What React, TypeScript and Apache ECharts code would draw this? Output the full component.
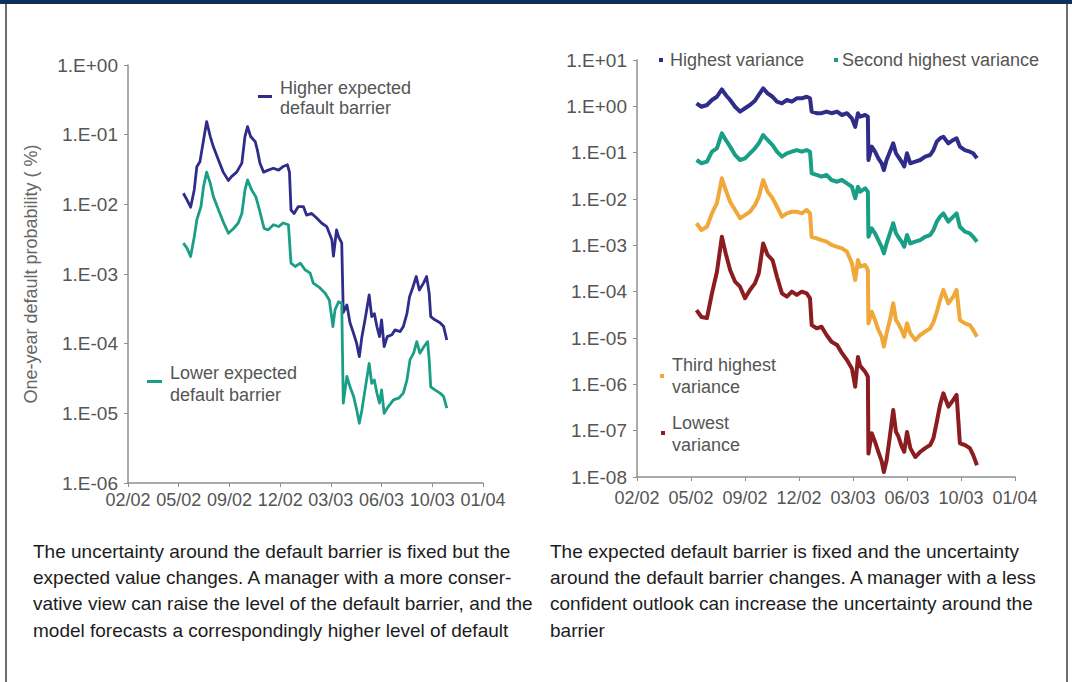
import React, { useEffect, useRef } from "react";
import * as echarts from "echarts";

// Date labels on both horizontal axes; ticks are TICK_DAYS apart
const tickLabels = ["02/02", "05/02", "09/02", "12/02", "03/03", "06/03", "10/03", "01/04"];
const TICK_DAYS = 98;

// Left panel: one-year default probability (%), [days since first tick, value]
const higherBarrier: [number, number][] = [
  [107, 1.44e-2], [114, 1.16e-2], [121, 9.1e-3], [128, 1.61e-2], [133, 3.47e-2], [139, 4.1e-2],
  [146, 8.4e-2], [152, 0.154], [159, 9.4e-2], [165, 6.7e-2], [175, 4.3e-2], [184, 2.9e-2],
  [194, 2.2e-2], [200, 2.5e-2], [210, 2.9e-2], [220, 3.9e-2], [226, 9.4e-2], [231, 0.13],
  [237, 9.4e-2], [246, 7.9e-2], [250, 6.0e-2], [255, 3.9e-2], [262, 2.9e-2], [271, 3.1e-2],
  [281, 3.3e-2], [291, 3.1e-2], [300, 3.5e-2], [308, 3.7e-2], [312, 2.9e-2], [315, 8.3e-3],
  [321, 7.4e-3], [329, 9.3e-3], [339, 9.3e-3], [345, 7.0e-3], [355, 7.4e-3], [365, 6.3e-3],
  [374, 5.4e-3], [384, 4.8e-3], [394, 3.1e-3], [397, 1.8e-3], [403, 4.3e-3], [407, 3.4e-3],
  [413, 2.8e-3], [416, 2.8e-4], [423, 3.6e-4], [429, 2.0e-4], [436, 1.4e-4], [442, 1.0e-4],
  [447, 6.5e-5], [452, 1.26e-4], [458, 2.2e-4], [466, 5.0e-4], [471, 2.45e-4], [476, 2.7e-4],
  [481, 1.76e-4], [486, 1.26e-4], [490, 2.2e-4], [495, 9.1e-5], [501, 1.26e-4], [510, 1.34e-4],
  [516, 1.58e-4], [526, 1.49e-4], [532, 1.76e-4], [539, 2.7e-4], [544, 4.7e-4], [550, 6.3e-4],
  [557, 9.2e-4], [563, 5.9e-4], [571, 7.4e-4], [577, 9.2e-4], [582, 5.3e-4], [585, 2.45e-4],
  [593, 2.2e-4], [603, 2.0e-4], [610, 1.76e-4], [616, 1.13e-4],
];

const lowerBarrier: [number, number][] = [
  [107, 2.77e-3], [114, 2.35e-3], [121, 1.78e-3], [128, 3.4e-3], [133, 6.0e-3], [141, 9.3e-3],
  [146, 1.8e-2], [152, 2.9e-2], [159, 2.0e-2], [165, 1.29e-2], [175, 8.3e-3], [184, 5.6e-3],
  [194, 3.85e-3], [204, 4.5e-3], [213, 5.4e-3], [220, 7.4e-3], [226, 1.6e-2], [231, 2.24e-2],
  [239, 1.6e-2], [247, 1.29e-2], [254, 8.3e-3], [263, 4.5e-3], [271, 4.3e-3], [281, 5.1e-3],
  [291, 4.8e-3], [300, 5.4e-3], [310, 5.1e-3], [315, 1.43e-3], [323, 1.28e-3], [333, 1.43e-3],
  [342, 1.15e-3], [352, 1.03e-3], [358, 7.4e-4], [371, 6.3e-4], [381, 5.3e-4], [389, 4.25e-4],
  [396, 1.76e-4], [400, 3.05e-4], [407, 4.0e-4], [413, 3.8e-4], [416, 1.4e-5], [423, 3.4e-5],
  [429, 2.4e-5], [436, 1.74e-5], [442, 1.12e-5], [447, 7.2e-6], [452, 1.12e-5], [458, 2.17e-5],
  [466, 5.2e-5], [471, 2.7e-5], [476, 3.0e-5], [481, 1.95e-5], [486, 1.4e-5], [490, 2.17e-5],
  [495, 1.0e-5], [503, 1.25e-5], [513, 1.56e-5], [523, 1.65e-5], [532, 1.95e-5], [539, 3.0e-5],
  [545, 5.9e-5], [552, 7.3e-5], [558, 1.07e-4], [564, 7.3e-5], [572, 9.1e-5], [579, 1.07e-4],
  [582, 5.9e-5], [585, 2.4e-5], [593, 2.17e-5], [603, 1.95e-5], [610, 1.74e-5], [616, 1.19e-5],
];

// Right panel: shared sample days and the four variance levels
const varianceDays = [
  108, 117, 127, 136, 145, 154, 161, 169, 178, 187, 196, 205, 214, 221, 229, 237, 246, 254, 263, 272,
  281, 290, 299, 308, 314, 317, 326, 335, 344, 353, 363, 372, 381, 390, 396, 401, 405, 414, 419, 420,
  426, 432, 438, 444, 448, 453, 459, 465, 470, 474, 480, 485, 490, 496, 505, 514, 523, 532, 538, 544,
  550, 556, 565, 574, 580, 586, 595, 604, 610, 617,
];

const highestVariance = [
  1.16, 0.98, 1.07, 1.37, 1.61, 2.33, 1.76, 1.37, 0.98, 0.77, 0.91, 1.07, 1.32, 1.76, 2.45, 1.91, 1.61, 1.26, 1.16, 1.37,
  1.26, 1.49, 1.49, 1.61, 1.49, 0.77, 0.71, 0.71, 0.77, 0.71, 0.77, 0.65, 0.71, 0.55, 0.36, 0.71, 0.6, 0.65, 0.6, 0.0695,
  0.135, 0.105, 0.0755, 0.059, 0.042, 0.0695, 0.105, 0.159, 0.097, 0.082, 0.064, 0.05, 0.097, 0.059, 0.064, 0.0695, 0.082, 0.089, 0.114, 0.173,
  0.204, 0.221, 0.159, 0.188, 0.204, 0.135, 0.114, 0.105, 0.097, 0.0755,
];

const secondVariance = [
  0.0695, 0.059, 0.064, 0.105, 0.124, 0.262, 0.188, 0.135, 0.089, 0.0695, 0.0755, 0.097, 0.124, 0.159, 0.24, 0.188, 0.146, 0.105, 0.082, 0.097,
  0.105, 0.114, 0.105, 0.114, 0.105, 0.0359, 0.033, 0.0303, 0.033, 0.0257, 0.0236, 0.0257, 0.0218, 0.0184, 0.0104, 0.0184, 0.0144, 0.017, 0.0144, 0.00153,
  0.00233, 0.00182, 0.0013, 0.00093, 0.00067, 0.0011, 0.00182, 0.003, 0.00182, 0.00153, 0.0012, 0.00093, 0.00167, 0.0011, 0.0012, 0.0013, 0.00153, 0.00167, 0.00214, 0.00324,
  0.00415, 0.0049, 0.00324, 0.00415, 0.0049, 0.00252, 0.00197, 0.00182, 0.00153, 0.0012,
];

const thirdVariance = [
  0.003, 0.00214, 0.00252, 0.0049, 0.0081, 0.028, 0.0156, 0.0087, 0.0058, 0.00383, 0.0045, 0.0053, 0.0074, 0.0112, 0.0257, 0.0144, 0.0104, 0.0068, 0.00415, 0.0049,
  0.0053, 0.0053, 0.0049, 0.0058, 0.0049, 0.00153, 0.00142, 0.0013, 0.0012, 0.00102, 0.00093, 0.00086, 0.00073, 0.00041, 0.000178, 0.00048, 0.000346, 0.000376, 0.000293, 2.07e-5,
  3.69e-5, 2.44e-5, 1.49e-5, 1.07e-5, 6.5e-6, 1.26e-5, 2.44e-5, 5.6e-5, 2.44e-5, 2.07e-5, 1.49e-5, 1.07e-5, 2.07e-5, 1.26e-5, 9.0e-6, 1.16e-5, 1.37e-5, 1.62e-5, 2.2e-5, 3.6e-5,
  6.6e-5, 1.09e-4, 5.6e-5, 7.8e-5, 1.09e-4, 2.44e-5, 2.07e-5, 1.9e-5, 1.49e-5, 1.07e-5,
];

const lowestVariance = [
  4.0e-5, 2.84e-5, 2.7e-5, 9.2e-5, 2.65e-4, 1.53e-3, 6.7e-4, 2.93e-4, 1.64e-4, 1.28e-4, 7.2e-5, 1.09e-4, 1.51e-4, 2.49e-4, 1.1e-3, 6.2e-4, 4.8e-4, 2.1e-4, 9.2e-5, 7.8e-5,
  1.0e-4, 8.5e-5, 1.0e-4, 9.2e-5, 7.2e-5, 1.9e-5, 1.62e-5, 1.75e-5, 1.16e-5, 8.3e-6, 7.1e-6, 4.7e-6, 3.35e-6, 2.2e-6, 8.9e-7, 3.9e-6, 2.5e-6, 1.87e-6, 1.46e-6, 3.2e-8,
  8.8e-8, 5.7e-8, 3.5e-8, 2.2e-8, 1.28e-8, 2.3e-8, 7.7e-8, 2.8e-7, 9.4e-8, 7.7e-8, 4.7e-8, 3.5e-8, 9.4e-8, 4.2e-8, 2.7e-8, 3.5e-8, 4.2e-8, 4.9e-8, 6.9e-8, 1.54e-7,
  3.6e-7, 6.4e-7, 3.3e-7, 4.6e-7, 5.9e-7, 5.3e-8, 4.9e-8, 4.2e-8, 3.0e-8, 1.8e-8,
];

const leftCaption = [
  "The uncertainty around the default barrier is fixed but the",
  "expected value changes. A manager with a more conser-",
  "vative view can raise the level of the default barrier, and the",
  "model forecasts a correspondingly higher level of default",
];
const rightCaption = [
  "The expected default barrier is fixed and the uncertainty",
  "around the default barrier changes. A manager with a less",
  "confident outlook can increase the uncertainty around the",
  "barrier",
];

const FONT = '"Liberation Sans", Arial, Helvetica, sans-serif';
const AXIS_GREY = "#8f8f8f";
const LABEL_GREY = "#555555";
const BLUE = "#2f2c8a";
const GREEN = "#1a9f86";
const ORANGE = "#f0a83a";
const DARK_RED = "#8b1c1f";

const sciLabel = (v: number) => {
  const e = Math.round(Math.log10(v));
  const a = Math.abs(e);
  return `1.E${e < 0 ? "-" : "+"}${a < 10 ? "0" + a : a}`;
};

const dateLabel = (v: number) => tickLabels[Math.round(v / TICK_DAYS)] ?? "";

const xAxisFor = (gridIndex: number, margin: number) => ({
  gridIndex,
  type: "value",
  min: 0,
  max: TICK_DAYS * (tickLabels.length - 1),
  interval: TICK_DAYS,
  axisLine: { lineStyle: { color: AXIS_GREY, width: 1.5 } },
  axisTick: { show: true, length: 4, lineStyle: { color: AXIS_GREY } },
  axisLabel: { formatter: dateLabel, color: LABEL_GREY, fontSize: 18, fontFamily: FONT, margin },
  splitLine: { show: false },
});

const yAxisFor = (gridIndex: number, min: number, max: number, extra: object) => ({
  gridIndex,
  type: "log",
  logBase: 10,
  min,
  max,
  splitNumber: 10,
  axisLine: { show: true, lineStyle: { color: AXIS_GREY, width: 1.5 } },
  axisTick: { show: true, length: 4, lineStyle: { color: AXIS_GREY } },
  axisLabel: { formatter: sciLabel, color: LABEL_GREY, fontSize: 19, fontFamily: FONT, margin: 10 },
  splitLine: { show: false },
  minorTick: { show: false },
  ...extra,
});

const txt = (text: string, x: number, y: number, size: number, fill: string) => ({
  type: "text",
  x,
  y,
  silent: true,
  style: { text, fill, fontSize: size, fontFamily: FONT, align: "left", verticalAlign: "middle" },
});

const box = (x: number, y: number, w: number, h: number, fill: string) => ({
  type: "rect",
  silent: true,
  shape: { x, y, width: w, height: h },
  style: { fill },
});

export default function App() {
  const ref = useRef<HTMLDivElement>(null);

  useEffect(() => {
    if (!ref.current) return;
    const chart = echarts.init(ref.current, undefined, { renderer: "svg" });

    const varianceSeries = (name: string, values: number[], color: string) => ({
      name,
      type: "line",
      xAxisIndex: 1,
      yAxisIndex: 1,
      data: varianceDays.map((d, i) => [d, values[i]]),
      showSymbol: false,
      symbol: "none",
      lineStyle: { color, width: 4, join: "round" },
      itemStyle: { color },
    });

    const graphics: any[] = [
      // frame
      box(0, 0, 1072, 4, "#0c2f5c"),
      box(5, 4, 2, 678, "#6e6e6e"),
      box(1066, 4, 2, 678, "#6e6e6e"),
      // left panel legend
      box(258, 95, 14, 3, BLUE),
      txt("Higher expected", 280, 88, 18, LABEL_GREY),
      txt("default barrier", 280, 108, 18, LABEL_GREY),
      box(147, 380, 15, 3, GREEN),
      txt("Lower expected", 170, 373, 18, LABEL_GREY),
      txt("default barrier", 170, 395, 18, LABEL_GREY),
      // right panel legend
      box(659, 58, 4, 4, BLUE),
      txt("Highest variance", 670, 60, 18, LABEL_GREY),
      box(834, 58, 4, 4, GREEN),
      txt("Second highest variance", 842, 60, 18, LABEL_GREY),
      box(660, 374, 4, 4, ORANGE),
      txt("Third highest", 672, 365, 18, LABEL_GREY),
      txt("variance", 672, 387, 18, LABEL_GREY),
      box(661, 431, 4, 4, DARK_RED),
      txt("Lowest", 672, 423, 18, LABEL_GREY),
      txt("variance", 672, 445, 18, LABEL_GREY),
    ];
    const lineYs = [551, 577, 603, 630];
    leftCaption.forEach((t, i) => graphics.push(txt(t, 33, lineYs[i], 19, "#1c1c1c")));
    rightCaption.forEach((t, i) => graphics.push(txt(t, 550, lineYs[i], 19, "#1c1c1c")));

    chart.setOption({
      animation: false,
      backgroundColor: "#ffffff",
      grid: [
        { left: 128, top: 65, width: 355, height: 418, containLabel: false },
        { left: 637, top: 60, width: 378, height: 417, containLabel: false },
      ],
      xAxis: [xAxisFor(0, 8), xAxisFor(1, 12)],
      yAxis: [
        yAxisFor(0, 1e-6, 1, {
          name: "One-year default probability ( %)",
          nameLocation: "middle",
          nameGap: 88,
          nameTextStyle: { color: "#666666", fontSize: 18, fontFamily: FONT },
        }),
        yAxisFor(1, 1e-8, 10, {}),
      ],
      series: [
        {
          name: "Higher expected default barrier",
          type: "line",
          xAxisIndex: 0,
          yAxisIndex: 0,
          data: higherBarrier,
          showSymbol: false,
          symbol: "none",
          lineStyle: { color: BLUE, width: 2.8, join: "round" },
          itemStyle: { color: BLUE },
        },
        {
          name: "Lower expected default barrier",
          type: "line",
          xAxisIndex: 0,
          yAxisIndex: 0,
          data: lowerBarrier,
          showSymbol: false,
          symbol: "none",
          lineStyle: { color: GREEN, width: 2.8, join: "round" },
          itemStyle: { color: GREEN },
        },
        varianceSeries("Highest variance", highestVariance, BLUE),
        varianceSeries("Second highest variance", secondVariance, GREEN),
        varianceSeries("Third highest variance", thirdVariance, ORANGE),
        varianceSeries("Lowest variance", lowestVariance, DARK_RED),
      ],
      graphic: graphics,
    });

    return () => chart.dispose();
  }, []);

  return (
    <div
      ref={ref}
      style={{ position: "absolute", left: 0, top: 0, width: 1072, height: 682, background: "#ffffff" }}
    />
  );
}
